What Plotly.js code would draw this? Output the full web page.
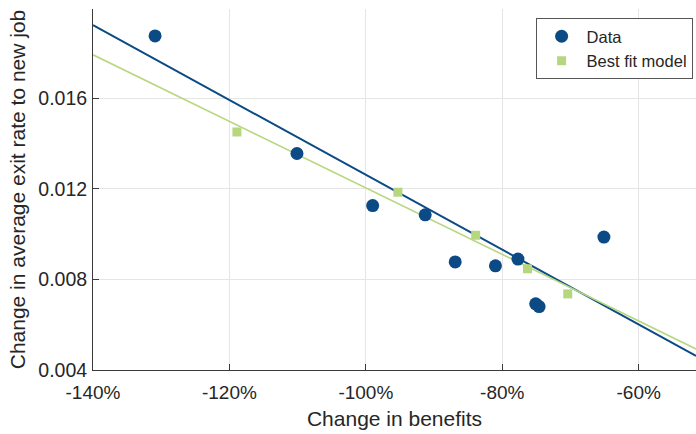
<!DOCTYPE html>
<html>
<head>
<meta charset="utf-8">
<script src="https://cdn.plot.ly/plotly-3.0.1.min.js"></script>
<style>html,body{margin:0;padding:0;background:#fff}#chart{width:696px;height:434px}</style>
</head>
<body>
<div id="chart"></div>
<script>
// Data points (change in benefits, %; change in average exit rate)
const dataX = [-130.9, -110.1, -99.0, -91.3, -86.9, -81.0, -77.7, -75.1, -74.6, -65.1];
const dataY = [0.01875, 0.01356, 0.01126, 0.01085, 0.00877, 0.00860, 0.00890, 0.00692, 0.00680, 0.00987];
// Best fit model points
const modelX = [-118.9, -95.3, -83.9, -76.3, -70.4];
const modelY = [0.01451, 0.01185, 0.00995, 0.00847, 0.00736];
// Fitted lines (endpoints)
const lineX = [-140, -51.6];
const dataLineY = [0.01923, 0.00462];
const modelLineY = [0.01792, 0.00493];
// Axis ticks
const xTicks = [-140, -120, -100, -80, -60];
const xTickText = ['-140%', '-120%', '-100%', '-80%', '-60%'];
const yTicks = [0.004, 0.008, 0.012, 0.016];
const yTickText = ['0.004', '0.008', '0.012', '0.016'];

const blue = '#0b4a85';
const green = '#b7d77f';
const axisCol = '#3a3a3a';
const txtCol = '#262626';
const font = 'Arial, "Liberation Sans", Helvetica, sans-serif';

const traces = [
  {x: lineX, y: dataLineY, mode: 'lines', line: {color: blue, width: 2}, showlegend: false, hoverinfo: 'skip'},
  {x: lineX, y: modelLineY, mode: 'lines', line: {color: green, width: 1.6}, showlegend: false, hoverinfo: 'skip'},
  {x: dataX, y: dataY, mode: 'markers', name: 'Data', marker: {symbol: 'circle', size: 13, color: blue}},
  {x: modelX, y: modelY, mode: 'markers', name: 'Best fit model', marker: {symbol: 'square', size: 9, color: green}}
];

const layout = {
  width: 696, height: 434,
  margin: {l: 93, r: 0, t: 9, b: 64, autoexpand: false},
  paper_bgcolor: '#fff', plot_bgcolor: '#fff',
  font: {family: font, color: txtCol, size: 19},
  xaxis: {
    range: [-140, -51.6], tickvals: xTicks, ticktext: xTickText,
    showline: true, linecolor: axisCol, linewidth: 1, mirror: false,
    ticks: 'inside', ticklen: 6, tickcolor: axisCol,
    showgrid: true, gridcolor: '#e5e5e5', gridwidth: 1, zeroline: false,
    tickfont: {size: 19, color: txtCol}, ticklabelstandoff: 5,
    title: {text: 'Change in benefits', font: {size: 21, color: txtCol}, standoff: 9},
    automargin: false
  },
  yaxis: {
    range: [0.004, 0.01994], tickvals: yTicks, ticktext: yTickText,
    showline: true, linecolor: axisCol, linewidth: 1, mirror: false,
    ticks: 'inside', ticklen: 6, tickcolor: axisCol,
    showgrid: true, gridcolor: '#e5e5e5', gridwidth: 1, zeroline: false,
    tickfont: {size: 19.5, color: txtCol}, ticklabelstandoff: 1,
    title: {text: 'Change in average exit rate to new job', font: {size: 21, color: txtCol}, standoff: 6},
    automargin: false
  },
  legend: {
    x: 0.734, y: 0.975, xanchor: 'left', yanchor: 'top',
    bgcolor: '#fff', bordercolor: '#555', borderwidth: 1,
    font: {size: 16.5, color: txtCol}, itemwidth: 40
  },
  showlegend: true
};

Plotly.newPlot('chart', traces, layout, {staticPlot: true, displayModeBar: false});
</script>
</body>
</html>
